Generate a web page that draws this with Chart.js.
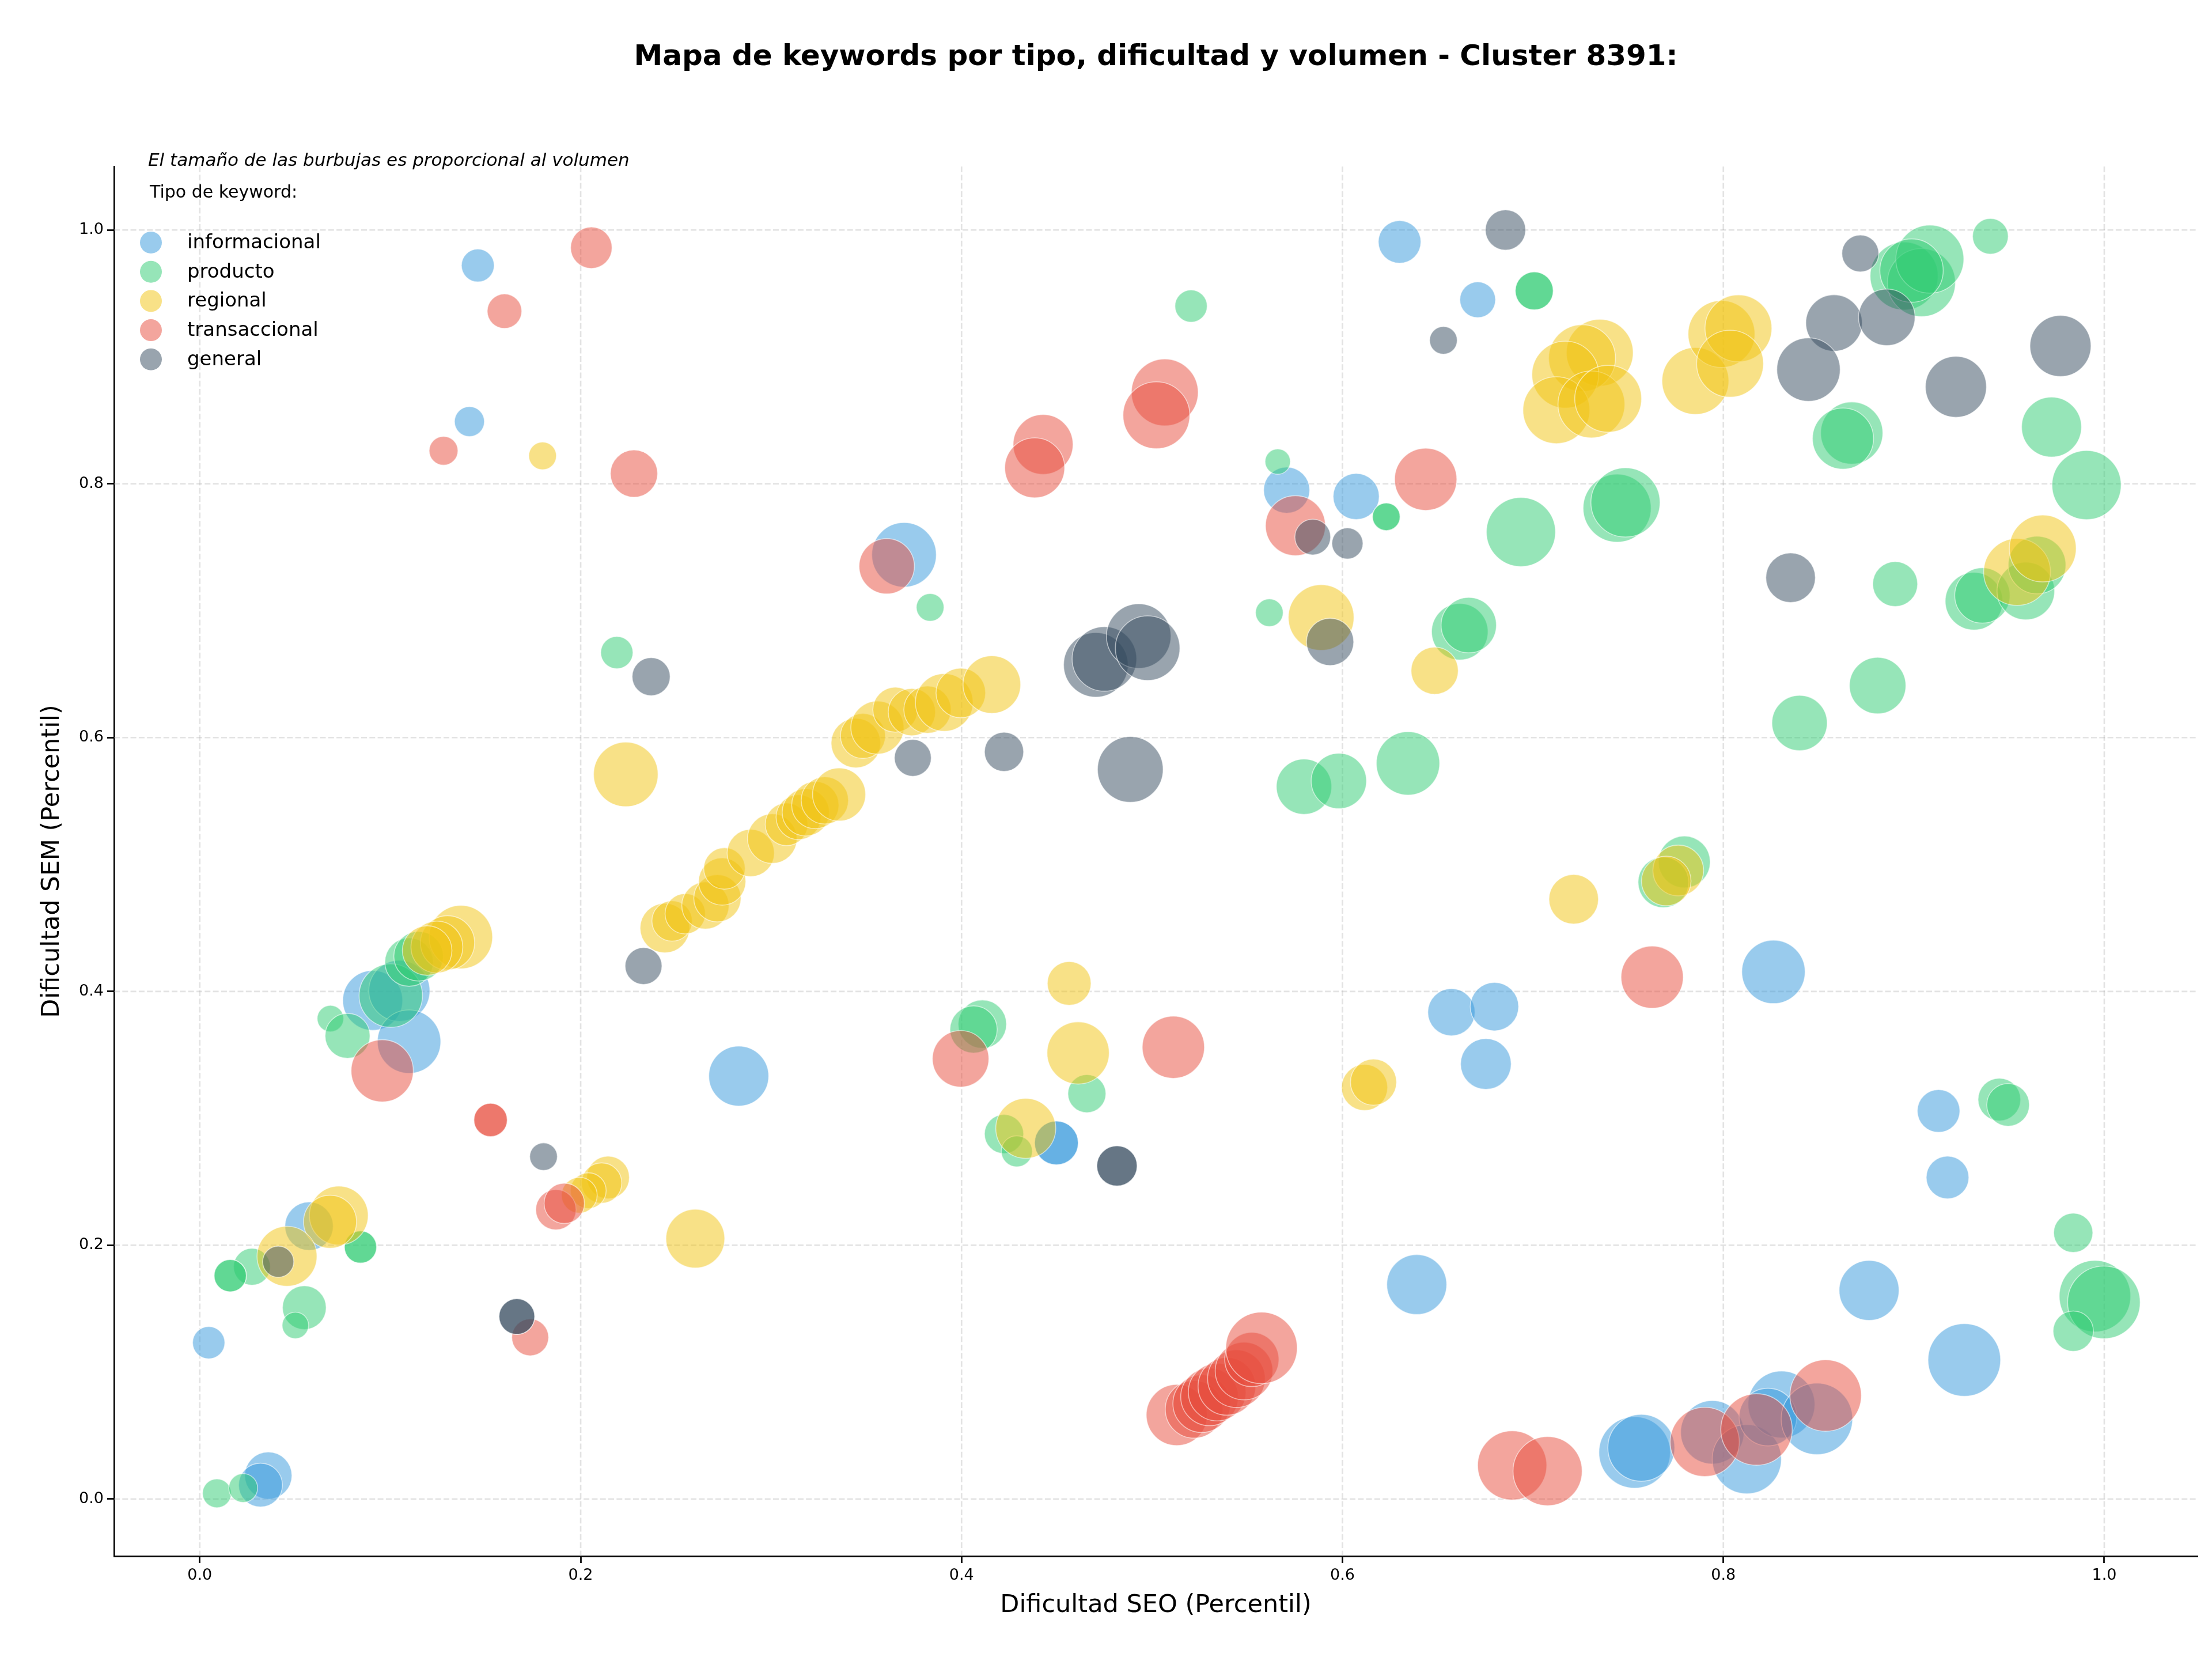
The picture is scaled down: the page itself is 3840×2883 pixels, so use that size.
<!DOCTYPE html>
<html><head><meta charset="utf-8">
<script src="https://cdn.jsdelivr.net/npm/chart.js@4.4.0/dist/chart.umd.min.js"></script>
<style>html,body{margin:0;padding:0;background:#fff;}canvas{display:block;}</style>
</head><body>
<canvas id="c" width="3840" height="2883" style="width:3840px;height:2883px"></canvas>
<script>
// ---------- DATA ----------
const categories = ['informacional', 'producto', 'regional', 'transaccional', 'general'];
const xTickValues = [0, 0.2, 0.4, 0.6, 0.8, 1.0];
const xTickLabels = ['0.0', '0.2', '0.4', '0.6', '0.8', '1.0'];
const yTickValues = [0, 0.2, 0.4, 0.6, 0.8, 1.0];
const yTickLabels = ['0.0', '0.2', '0.4', '0.6', '0.8', '1.0'];

const infoSEO = [0.146,0.1416,0.630,0.671,0.5707,0.6072,0.3698,0.0908,0.1048,0.1099,0.283,0.0574,0.0047,0.036,0.0319,0.4498,0.4498,0.6572,0.6798,0.6753,0.639,0.8263,0.913,0.9177,0.8765,0.9265,0.7534,0.7569,0.7942,0.8123,0.8305,0.8234,0.8491];
const infoSEM = [0.972,0.849,0.9906,0.945,0.795,0.79,0.744,0.3929,0.4005,0.3604,0.3333,0.215,0.1232,0.0185,0.011,0.2806,0.2806,0.3836,0.388,0.3428,0.169,0.4154,0.3058,0.2534,0.1644,0.1096,0.0367,0.0404,0.0526,0.0314,0.0745,0.0646,0.0632];
const infoVol = [3249,2704,5476,3844,6400,6400,12544,10816,11236,12100,10816,7056,3136,6724,5776,5776,5776,6724,7056,7744,10816,12100,5476,5476,10816,15876,15376,13456,12100,14400,13456,10000,15376];

const prodSEO = [0.5205,0.566,0.623,0.623,0.6937,0.3835,0.219,0.5616,0.6616,0.6663,0.5798,0.5981,0.6344,0.7007,0.7007,0.8949,0.904,0.9084,0.8988,0.9402,0.9723,0.9907,0.8674,0.8628,0.7442,0.7486,0.8902,0.9316,0.936,0.9588,0.9647,0.881,0.84,0.7795,0.7685,0.4109,0.4063,0.4658,0.4223,0.429,0.9449,0.9495,0.9837,0.9951,0.9998,0.9837,0.0686,0.0776,0.1003,0.1099,0.1149,0.0274,0.016,0.016,0.0844,0.0844,0.0549,0.0502,0.009,0.0228];
const prodSEM = [0.940,0.8175,0.774,0.774,0.762,0.7026,0.667,0.6984,0.6834,0.6886,0.5613,0.5658,0.5797,0.952,0.952,0.9637,0.9585,0.977,0.968,0.995,0.8447,0.799,0.84,0.8356,0.7808,0.7853,0.721,0.7075,0.712,0.7155,0.736,0.641,0.6115,0.502,0.486,0.3742,0.37,0.3194,0.2876,0.274,0.3148,0.3106,0.2098,0.1599,0.155,0.1323,0.3786,0.365,0.3967,0.4231,0.4277,0.183,0.176,0.176,0.1986,0.1986,0.1508,0.1368,0.0045,0.0087];
const prodVol = [3136,1936,2304,2304,14400,2304,3136,2304,9604,9216,9216,9216,12100,4356,4356,13924,13924,13924,12100,3844,10816,14400,11664,11236,13924,14400,6084,10000,9216,10000,10000,9604,9216,8100,7744,7056,6724,4356,4624,2916,5476,5476,4624,15376,15876,4900,2116,6084,12100,7056,7396,4096,3136,3136,3136,3136,5776,2116,2500,2500];

const regSEO = [0.180,0.2237,0.2442,0.248,0.2549,0.2655,0.2718,0.2743,0.2755,0.2893,0.3006,0.3081,0.3144,0.3182,0.3232,0.3282,0.3357,0.3445,0.3482,0.3558,0.3652,0.3739,0.3821,0.3909,0.3996,0.4159,0.1371,0.1301,0.1245,0.1194,0.073,0.0684,0.0458,0.2144,0.211,0.204,0.1993,0.2602,0.4565,0.4612,0.4337,0.6116,0.6163,0.5888,0.6484,0.7351,0.7258,0.717,0.7123,0.7307,0.7395,0.7853,0.799,0.8079,0.8035,0.9542,0.9677,0.7214,0.7763,0.770];
const regSEM = [0.822,0.571,0.4499,0.4555,0.4612,0.4677,0.4734,0.4866,0.4969,0.5091,0.5204,0.5317,0.5373,0.5411,0.5468,0.5505,0.5552,0.5957,0.6013,0.6079,0.622,0.6201,0.622,0.6277,0.6352,0.6418,0.4428,0.4383,0.435,0.4322,0.2234,0.2185,0.1913,0.2534,0.249,0.243,0.2394,0.2052,0.4063,0.3515,0.2921,0.3243,0.3285,0.6946,0.6527,0.9033,0.899,0.886,0.858,0.8625,0.867,0.881,0.918,0.9225,0.8946,0.7305,0.749,0.4726,0.4953,0.487];
const regVol = [2304,12544,7396,4900,4900,6724,6724,6724,5184,6724,7396,5476,6084,6724,6724,6724,8464,7396,6084,8464,6084,6724,6724,10000,7396,10000,12100,8836,8100,7396,10404,8464,10816,5476,4900,3844,3844,10404,5776,11664,10816,6400,6400,12996,6724,13456,13456,13456,13456,13456,13456,13456,13456,13456,13456,13456,13456,7396,7744,7396];

const tranSEO = [0.2056,0.160,0.128,0.228,0.5067,0.5023,0.4428,0.4384,0.5753,0.6437,0.3607,0.0958,0.1527,0.1527,0.187,0.1914,0.1735,0.3995,0.5112,0.7626,0.513,0.5221,0.5261,0.5302,0.5342,0.5393,0.5443,0.5483,0.5524,0.5575,0.6891,0.7077,0.7902,0.8174,0.8537];
const tranSEM = [0.986,0.936,0.826,0.808,0.872,0.854,0.831,0.8126,0.767,0.8035,0.735,0.3374,0.2987,0.2987,0.228,0.233,0.1274,0.3469,0.356,0.4112,0.0662,0.0707,0.0752,0.0805,0.0843,0.0888,0.0949,0.1009,0.11,0.1191,0.0265,0.022,0.045,0.0548,0.0816];
const tranVol = [5184,3600,2500,6724,13456,13456,10816,10816,10816,11664,9216,11664,3364,3364,4900,4900,4096,9604,11664,11664,11236,10000,10000,10000,10000,10000,10000,10000,8836,15376,14400,14400,14400,15376,15376];

const genSEO = [0.6856,0.653,0.5844,0.6026,0.4705,0.475,0.493,0.4977,0.5935,0.237,0.3744,0.4223,0.4886,0.233,0.1805,0.1665,0.1665,0.4816,0.4816,0.8719,0.8581,0.8858,0.8447,0.9221,0.977,0.8353,0.0412];
const genSEM = [1.0,0.913,0.758,0.753,0.6573,0.662,0.680,0.6705,0.6754,0.648,0.584,0.5888,0.5749,0.42,0.2698,0.1438,0.1438,0.2625,0.2625,0.9815,0.9267,0.9312,0.89,0.8764,0.9086,0.726,0.187];
const genVol = [4900,2304,3844,2916,12544,12544,12544,12544,6724,4356,4096,4624,12996,4096,2304,3844,3844,4900,4900,4096,9604,9604,12100,11236,11236,7396,2916];

// ---------- STYLE ----------
const seriesColors = ['52,152,219', '46,204,113', '241,196,15', '231,76,60', '52,73,94'];
const FONT = "'DejaVu Sans', 'Liberation Sans', sans-serif";
const BUBBLE_SCALE = 0.5; // radius = sqrt(volume) * scale

const seriesX = [infoSEO, prodSEO, regSEO, tranSEO, genSEO];
const seriesY = [infoSEM, prodSEM, regSEM, tranSEM, genSEM];
const seriesV = [infoVol, prodVol, regVol, tranVol, genVol];

const datasets = categories.map((name, k) => ({
  label: name,
  data: seriesX[k].map((x, i) => ({ x: x, y: seriesY[k][i], r: Math.sqrt(seriesV[k][i]) * BUBBLE_SCALE })),
  backgroundColor: 'rgba(' + seriesColors[k] + ',0.5)',
  borderColor: 'rgba(255,255,255,0.55)',
  borderWidth: 1.6,
  order: categories.length - k
}));

const overlay = {
  id: 'overlay',
  beforeDatasetsDraw(chart) {
    const { ctx, chartArea: a, scales } = chart;
    ctx.save();
    ctx.strokeStyle = 'rgba(176,176,176,0.35)';
    ctx.lineWidth = 2.7;
    ctx.setLineDash([10, 4.3]);
    xTickValues.forEach(v => {
      const px = scales.x.getPixelForValue(v);
      ctx.beginPath(); ctx.moveTo(px, a.top); ctx.lineTo(px, a.bottom); ctx.stroke();
    });
    yTickValues.forEach(v => {
      const py = scales.y.getPixelForValue(v);
      ctx.beginPath(); ctx.moveTo(a.left, py); ctx.lineTo(a.right, py); ctx.stroke();
    });
    ctx.restore();
  },
  afterDraw(chart) {
    const { ctx, chartArea: a } = chart;
    const cx = (a.left + a.right) / 2;
    ctx.save();
    ctx.fillStyle = '#000';
    // title
    ctx.font = 'bold 50px ' + FONT;
    ctx.textAlign = 'center'; ctx.textBaseline = 'middle';
    ctx.fillText('Mapa de keywords por tipo, dificultad y volumen - Cluster 8391:', cx, 100);
    // axis titles
    ctx.font = '43px ' + FONT;
    ctx.fillText('Dificultad SEO (Percentil)', cx, 2787);
    ctx.save();
    ctx.translate(91, (a.top + a.bottom) / 2);
    ctx.rotate(-Math.PI / 2);
    ctx.fillText('Dificultad SEM (Percentil)', 0, 0);
    ctx.restore();
    // note + legend
    ctx.textAlign = 'left';
    ctx.font = 'italic 31px ' + FONT;
    ctx.fillText('El tamaño de las burbujas es proporcional al volumen', 257, 280);
    ctx.font = '30px ' + FONT;
    ctx.fillText('Tipo de keyword:', 260, 335);
    ctx.font = '34px ' + FONT;
    chart.data.datasets.forEach((ds, i) => {
      const y = 421 + i * 50.7;
      ctx.beginPath();
      ctx.arc(262, y, 19, 0, Math.PI * 2);
      ctx.fillStyle = ds.backgroundColor;
      ctx.fill();
      ctx.fillStyle = '#000';
      ctx.fillText(ds.label, 325, y + 1);
    });
    ctx.restore();
  }
};

function tickCfg(values, labels) {
  return {
    type: 'linear',
    afterBuildTicks: s => { s.ticks = values.map(v => ({ value: v })); },
    ticks: {
      callback: (v) => { const i = values.findIndex(t => Math.abs(t - v) < 1e-9); return i >= 0 ? labels[i] : ''; },
      font: { family: FONT, size: 27 }, color: '#000', padding: 6, maxRotation: 0, autoSkip: false
    },
    grid: { drawOnChartArea: false, drawTicks: true, tickLength: 12, tickWidth: 2.7, tickColor: '#000' },
    border: { display: true, color: '#000', width: 2.7 }
  };
}

const xScale = Object.assign(tickCfg(xTickValues, xTickLabels), { min: -0.045, max: 1.049, position: 'bottom',
  afterFit: s => { s.height = 182; } });
const yScale = Object.assign(tickCfg(yTickValues, yTickLabels), { min: -0.045, max: 1.05, position: 'left',
  afterFit: s => { s.width = 198; } });

new Chart(document.getElementById('c'), {
  type: 'bubble',
  data: { datasets: datasets },
  options: {
    responsive: false,
    devicePixelRatio: 1,
    animation: false,
    events: [],
    layout: { autoPadding: false, padding: { left: 0, right: 25, top: 289, bottom: 0 } },
    plugins: { legend: { display: false }, tooltip: { enabled: false }, title: { display: false } },
    scales: { x: xScale, y: yScale }
  },
  plugins: [overlay]
});
</script>
</body></html>
